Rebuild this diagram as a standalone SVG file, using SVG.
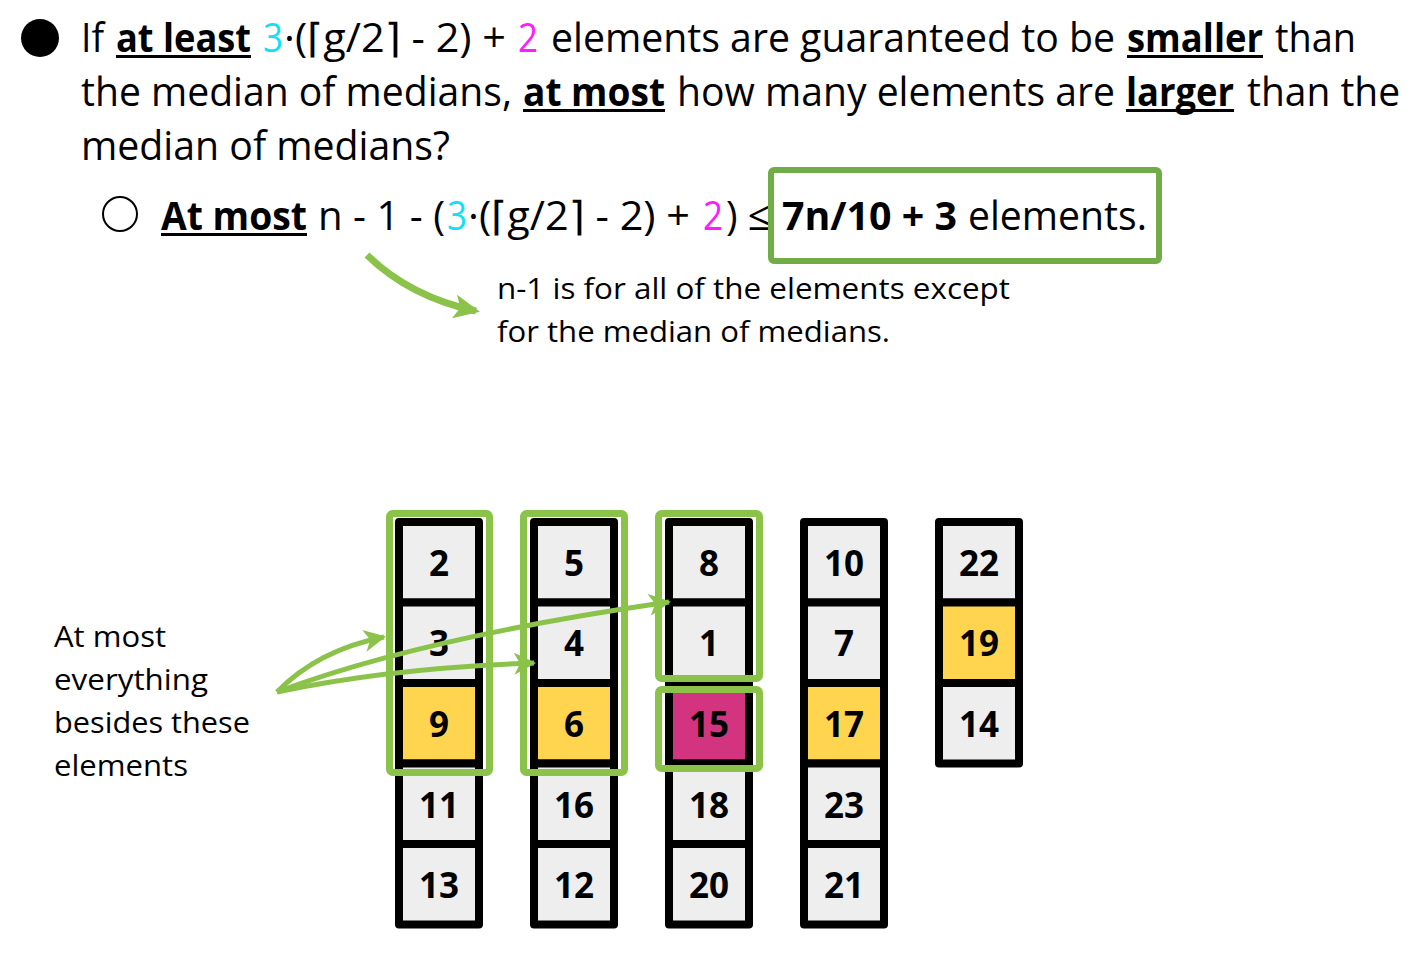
<svg xmlns="http://www.w3.org/2000/svg" width="1417" height="956" viewBox="0 0 1417 956">
<defs>
<style>
text{font-family:"Open Sans","Noto Sans","DejaVu Sans",sans-serif;fill:#000}
.t{font-size:40px}
.b{font-weight:bold}
.s{font-size:30px}
.n{font-size:35px;font-weight:bold;text-anchor:middle}
.cy{fill:#11E0F5}
.mg{fill:#FF1AFF}
.cell{stroke:#000;stroke-width:8;stroke-linejoin:round}
.g{fill:#EEEEEE}
.y{fill:#FFD54F}
.m{fill:#D3347F}
.gb{fill:none;stroke:#8BC34A;stroke-width:7}
.arr{fill:none;stroke:#8BC34A;stroke-width:5;marker-end:url(#ah)}
.ul{fill:#000}
</style>
<marker id="ah" markerUnits="userSpaceOnUse" markerWidth="26" markerHeight="24" refX="20" refY="11" orient="auto">
<path d="M0,0 L22,11 L0,22 L6,11 z" fill="#8BC34A"/>
</marker>
<marker id="ah2" markerUnits="userSpaceOnUse" markerWidth="30" markerHeight="28" refX="22" refY="12" orient="auto">
<path d="M0,0 L26,12 L0,24 L6,12 z" fill="#8BC34A"/>
</marker>
</defs>
<rect width="1417" height="956" fill="#fff"/>

<g id="question">
<circle cx="40" cy="38" r="19" fill="#000"/>
<text class="t" x="81" y="52" textLength="23" lengthAdjust="spacingAndGlyphs">If</text>
<text class="t b" x="116" y="52" textLength="135" lengthAdjust="spacingAndGlyphs">at least</text>
<rect class="ul" x="116" y="55" width="135" height="3"/>
<text class="t cy" x="263" y="52" textLength="20" lengthAdjust="spacingAndGlyphs">3</text>
<text class="t" x="284" y="52" textLength="222" lengthAdjust="spacingAndGlyphs">·(⌈g/2⌉ - 2) +</text>
<text class="t mg" x="518" y="52" textLength="20" lengthAdjust="spacingAndGlyphs">2</text>
<text class="t" x="551" y="52" textLength="564" lengthAdjust="spacingAndGlyphs">elements are guaranteed to be</text>
<text class="t b" x="1127" y="52" textLength="136" lengthAdjust="spacingAndGlyphs">smaller</text>
<rect class="ul" x="1127" y="55" width="136" height="3"/>
<text class="t" x="1275" y="52" textLength="81" lengthAdjust="spacingAndGlyphs">than</text>

<text class="t" x="81" y="106" textLength="431" lengthAdjust="spacingAndGlyphs">the median of medians,</text>
<text class="t b" x="523" y="106" textLength="142" lengthAdjust="spacingAndGlyphs">at most</text>
<rect class="ul" x="523" y="109" width="142" height="3"/>
<text class="t" x="677" y="106" textLength="438" lengthAdjust="spacingAndGlyphs">how many elements are</text>
<text class="t b" x="1126" y="106" textLength="108" lengthAdjust="spacingAndGlyphs">larger</text>
<rect class="ul" x="1126" y="109" width="108" height="3"/>
<text class="t" x="1247" y="106" textLength="153" lengthAdjust="spacingAndGlyphs">than the</text>

<text class="t" x="81" y="160" textLength="369" lengthAdjust="spacingAndGlyphs">median of medians?</text>
</g>

<g id="answer">
<circle cx="120" cy="214" r="17" fill="none" stroke="#000" stroke-width="2"/>
<text class="t b" x="161" y="230" textLength="146" lengthAdjust="spacingAndGlyphs">At most</text>
<rect class="ul" x="161" y="233" width="146" height="3"/>
<text class="t" x="318" y="230" textLength="127" lengthAdjust="spacingAndGlyphs">n - 1 - (</text>
<text class="t cy" x="447" y="230" textLength="20" lengthAdjust="spacingAndGlyphs">3</text>
<text class="t" x="468" y="230" textLength="222" lengthAdjust="spacingAndGlyphs">·(⌈g/2⌉ - 2) +</text>
<text class="t mg" x="703" y="230" textLength="20" lengthAdjust="spacingAndGlyphs">2</text>
<text class="t" x="726" y="230" textLength="44" lengthAdjust="spacingAndGlyphs">) ≤</text>
<text class="t b" x="782" y="230" textLength="175" lengthAdjust="spacingAndGlyphs">7n/10 + 3</text>
<text class="t" x="968" y="230" textLength="179" lengthAdjust="spacingAndGlyphs">elements.</text>
<rect x="771" y="170" width="388" height="91" rx="3" fill="none" stroke="#70AD47" stroke-width="6"/>
</g>

<g id="note">
<text class="s" x="497" y="299" textLength="513" lengthAdjust="spacingAndGlyphs">n-1 is for all of the elements except</text>
<text class="s" x="497" y="342" textLength="393" lengthAdjust="spacingAndGlyphs">for the median of medians.</text>
</g>

<g id="side-label">
<text class="s" x="54" y="647" textLength="112" lengthAdjust="spacingAndGlyphs">At most</text>
<text class="s" x="54" y="690" textLength="154" lengthAdjust="spacingAndGlyphs">everything</text>
<text class="s" x="54" y="733" textLength="196" lengthAdjust="spacingAndGlyphs">besides these</text>
<text class="s" x="54" y="776" textLength="134" lengthAdjust="spacingAndGlyphs">elements</text>
</g>

<g id="col1">
<rect class="cell g" x="399" y="522" width="80" height="80.5"/>
<rect class="cell g" x="399" y="602.5" width="80" height="80.5"/>
<rect class="cell y" x="399" y="683" width="80" height="80.5"/>
<rect class="cell g" x="399" y="763.5" width="80" height="80.5"/>
<rect class="cell g" x="399" y="844" width="80" height="80.5"/>
<text class="n" x="439" y="576">2</text>
<text class="n" x="439" y="656">3</text>
<text class="n" x="439" y="737">9</text>
<text class="n" x="439" y="818">11</text>
<text class="n" x="439" y="898">13</text>
</g>
<g id="col2">
<rect class="cell g" x="534" y="522" width="80" height="80.5"/>
<rect class="cell g" x="534" y="602.5" width="80" height="80.5"/>
<rect class="cell y" x="534" y="683" width="80" height="80.5"/>
<rect class="cell g" x="534" y="763.5" width="80" height="80.5"/>
<rect class="cell g" x="534" y="844" width="80" height="80.5"/>
<text class="n" x="574" y="576">5</text>
<text class="n" x="574" y="656">4</text>
<text class="n" x="574" y="737">6</text>
<text class="n" x="574" y="818">16</text>
<text class="n" x="574" y="898">12</text>
</g>
<g id="col3">
<rect class="cell g" x="669" y="522" width="80" height="80.5"/>
<rect class="cell g" x="669" y="602.5" width="80" height="80.5"/>
<rect class="cell m" x="669" y="683" width="80" height="80.5"/>
<rect class="cell g" x="669" y="763.5" width="80" height="80.5"/>
<rect class="cell g" x="669" y="844" width="80" height="80.5"/>
<text class="n" x="709" y="576">8</text>
<text class="n" x="709" y="656">1</text>
<text class="n" x="709" y="737">15</text>
<text class="n" x="709" y="818">18</text>
<text class="n" x="709" y="898">20</text>
</g>
<g id="col4">
<rect class="cell g" x="804" y="522" width="80" height="80.5"/>
<rect class="cell g" x="804" y="602.5" width="80" height="80.5"/>
<rect class="cell y" x="804" y="683" width="80" height="80.5"/>
<rect class="cell g" x="804" y="763.5" width="80" height="80.5"/>
<rect class="cell g" x="804" y="844" width="80" height="80.5"/>
<text class="n" x="844" y="576">10</text>
<text class="n" x="844" y="656">7</text>
<text class="n" x="844" y="737">17</text>
<text class="n" x="844" y="818">23</text>
<text class="n" x="844" y="898">21</text>
</g>
<g id="col5">
<rect class="cell g" x="939" y="522" width="80" height="80.5"/>
<rect class="cell y" x="939" y="602.5" width="80" height="80.5"/>
<rect class="cell g" x="939" y="683" width="80" height="80.5"/>
<text class="n" x="979" y="576">22</text>
<text class="n" x="979" y="656">19</text>
<text class="n" x="979" y="737">14</text>
</g>

<g id="highlights">
<rect class="gb" x="389.5" y="513.5" width="100" height="259" rx="3"/>
<rect class="gb" x="523.5" y="513.5" width="101" height="259" rx="3"/>
<rect class="gb" x="658.5" y="513.5" width="101" height="165" rx="3"/>
<rect class="gb" x="658.5" y="689.5" width="101" height="79" rx="3"/>
</g>

<g id="connectors">
<path d="M367,255 Q410,297 476,311" fill="none" stroke="#8BC34A" stroke-width="7" marker-end="url(#ah2)"/>
<path class="arr" d="M277,692 Q318,650 384,637"/>
<path class="arr" d="M277,692 Q420,638 669,602"/>
<path class="arr" d="M277,692 Q390,668 534,663"/>
</g>
</svg>
